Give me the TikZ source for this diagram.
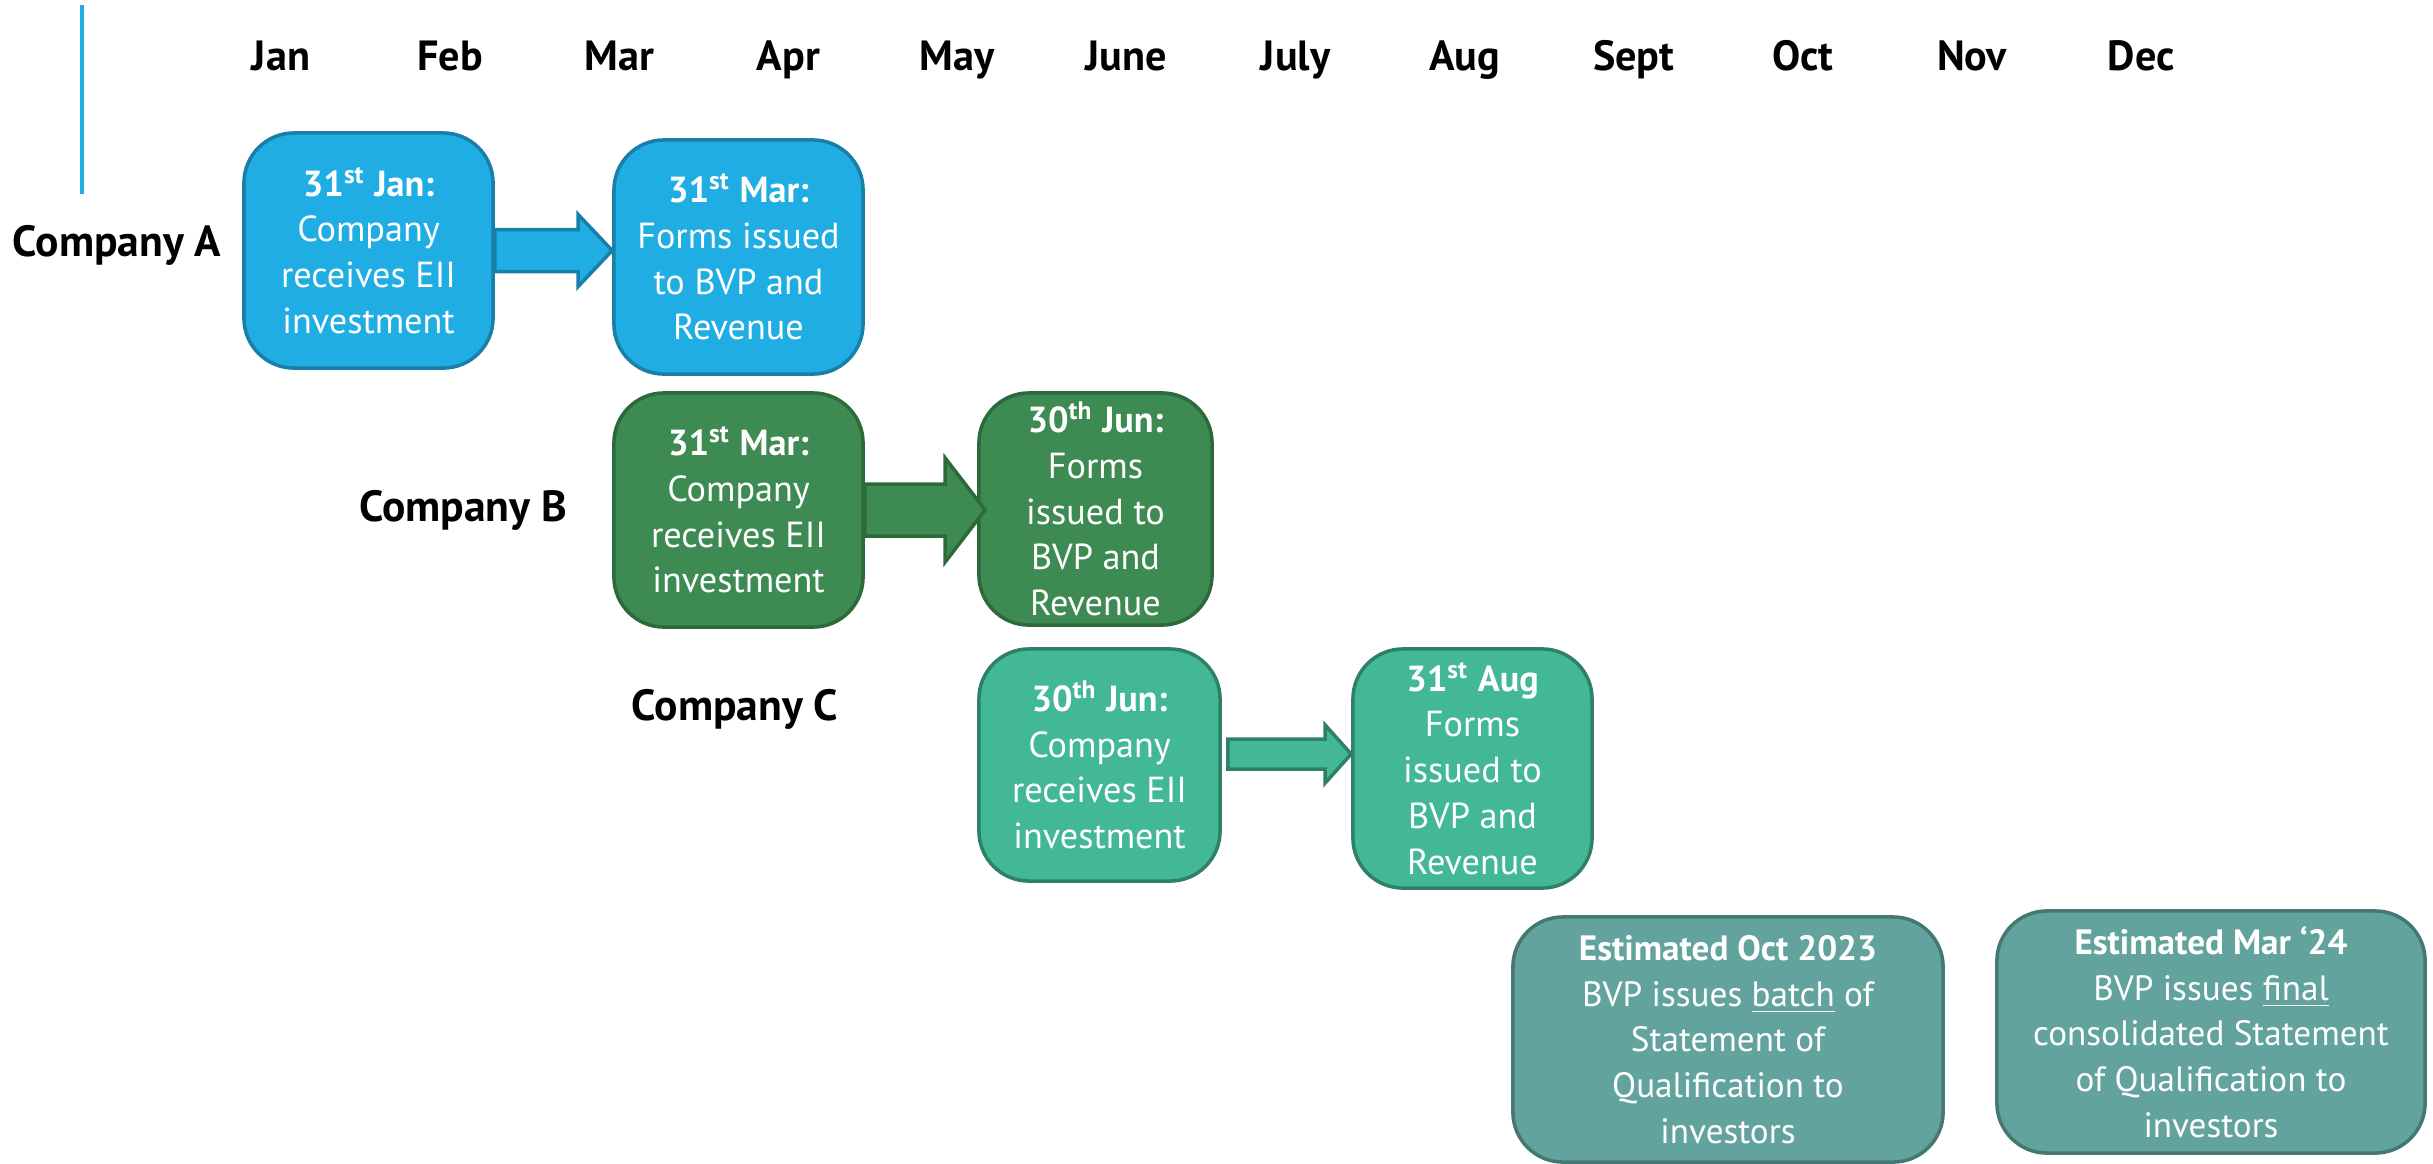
\documentclass[tikz,border=0pt]{standalone}
\usepackage{fontspec}
\setmainfont{PT Sans}
\usetikzlibrary{calc}
\definecolor{blueF}{HTML}{1FADE3}
\definecolor{blueD}{HTML}{1A7FA8}
\definecolor{dgreenF}{HTML}{3D8A52}
\definecolor{dgreenD}{HTML}{2C6A3C}
\definecolor{tealF}{HTML}{42B896}
\definecolor{tealD}{HTML}{2F8068}
\definecolor{greyF}{HTML}{62A39E}
\definecolor{greyD}{HTML}{467873}
\tikzset{
  box/.style={rectangle, rounded corners=0.5cm, line width=1pt, text=white, align=center,
    font=\fontsize{10.3}{13}\selectfont, inner sep=0pt},
  month/.style={font=\bfseries\fontsize{12}{14}\selectfont, anchor=base, inner sep=0pt},
  comp/.style={font=\bfseries\fontsize{12.4}{14}\selectfont, anchor=east, inner sep=0pt},
  barrow/.style={line width=1pt}
}
\begin{document}
\begin{tikzpicture}[x=0.01cm,y=-0.01cm]
\useasboundingbox (0,0) rectangle (2433,1163);
\draw[blueF, line width=0.04cm] (82,5) coordinate (l1) -- (82,194) coordinate (l2);
% months
\foreach \m [count=\i from 0] in {Jan,Feb,Mar,Apr,May,June,July,Aug,Sept,Oct,Nov,Dec}
  \node[month] (m\i) at (281+169.1*\i,70) {\m};
% company labels
\node[comp] (ca) at (222,245) {Company A};
\node[comp] (cb) at (568,510) {Company B};
\node[comp] (cc) at (839,709) {Company C};
% boxes
\node[box, fill=blueF, draw=blueD, minimum width=2.49cm, minimum height=2.35cm] (a1) at (368.5,250.5)
  {\textbf{31\textsuperscript{st} Jan:}\\Company\\receives EII\\investment};
\node[box, fill=blueF, draw=blueD, minimum width=2.49cm, minimum height=2.34cm] (a2) at (738.5,257)
  {\textbf{31\textsuperscript{st} Mar:}\\Forms issued\\to BVP and\\Revenue};
\node[box, fill=dgreenF, draw=dgreenD, minimum width=2.49cm, minimum height=2.34cm] (b1) at (738.5,510)
  {\textbf{31\textsuperscript{st} Mar:}\\Company\\receives EII\\investment};
\node[box, fill=dgreenF, draw=dgreenD, minimum width=2.33cm, minimum height=2.32cm] (b2) at (1095.5,509)
  {\textbf{30\textsuperscript{th} Jun:}\\Forms\\issued to\\BVP and\\Revenue};
\node[box, fill=tealF, draw=tealD, minimum width=2.41cm, minimum height=2.32cm] (c1) at (1099.5,765)
  {\textbf{30\textsuperscript{th} Jun:}\\Company\\receives EII\\investment};
\node[box, fill=tealF, draw=tealD, minimum width=2.39cm, minimum height=2.39cm] (c2) at (1472.5,768.5)
  {\textbf{31\textsuperscript{st} Aug}\\Forms\\issued to\\BVP and\\Revenue};
\node[box, fill=greyF, draw=greyD, minimum width=4.30cm, minimum height=2.45cm, font=\fontsize{10}{13}\selectfont] (d1) at (1728,1039.5)
  {\textbf{Estimated Oct 2023}\\BVP issues \underline{batch} of\\Statement of\\Qualification to\\investors};
\node[box, fill=greyF, draw=greyD, minimum width=4.28cm, minimum height=2.42cm, font=\fontsize{10}{13}\selectfont] (d2) at (2211,1032)
  {\textbf{Estimated Mar ‘24}\\BVP issues \underline{final}\\consolidated Statement\\of Qualification to\\investors};
% block arrows
\draw[barrow, fill=blueF, draw=blueD]
  ($(a1.east)+(0,-21)$) -- ($(a2.west |- a1.east)+(-34,-21)$) -- ($(a2.west |- a1.east)+(-34,-36)$)
  -- (a2.west |- a1.east) -- ($(a2.west |- a1.east)+(-34,36)$) -- ($(a2.west |- a1.east)+(-34,21)$)
  -- ($(a1.east)+(0,21)$) -- cycle;
\draw[barrow, fill=dgreenF, draw=dgreenD]
  ($(b1.east)+(0,-26)$) -- ($(b2.west |- b1.east)+(-32,-26)$) -- ($(b2.west |- b1.east)+(-32,-52)$)
  -- ($(b2.west |- b1.east)+(8,0)$) -- ($(b2.west |- b1.east)+(-32,52)$) -- ($(b2.west |- b1.east)+(-32,26)$)
  -- ($(b1.east)+(0,26)$) -- cycle;
\draw[barrow, fill=tealF, draw=tealD]
  ($(c1.east)+(6,-26)$) -- ($(c2.west |- c1.east)+(-26,-26)$) -- ($(c2.west |- c1.east)+(-26,-40)$)
  -- ($(c2.west |- c1.east)+(0,-11)$) -- ($(c2.west |- c1.east)+(-26,18)$) -- ($(c2.west |- c1.east)+(-26,4)$)
  -- ($(c1.east)+(6,4)$) -- cycle;
\end{tikzpicture}
\end{document}
